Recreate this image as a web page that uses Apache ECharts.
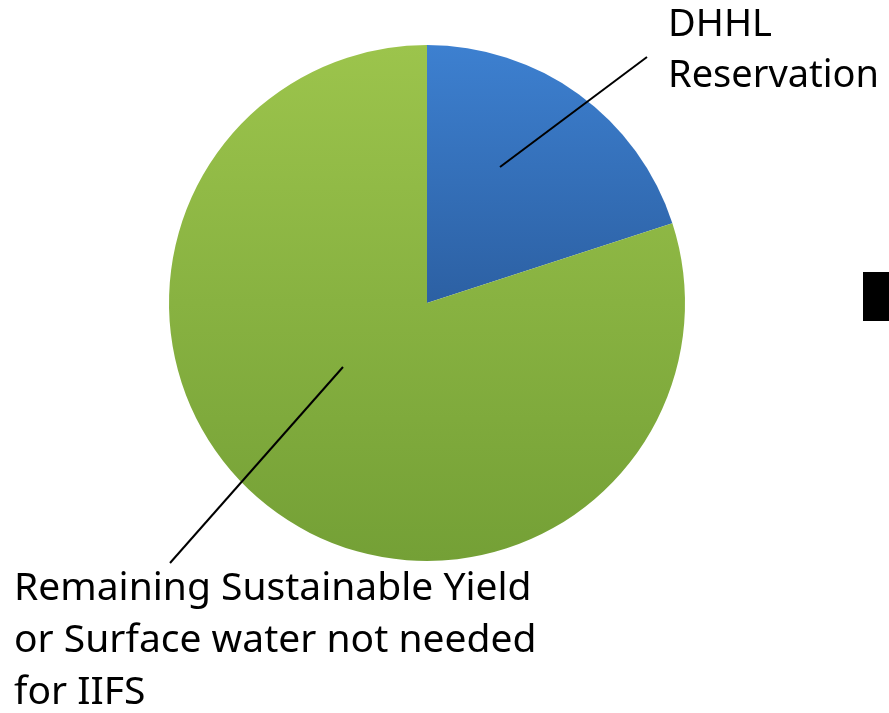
<!DOCTYPE html>
<html><head><meta charset="utf-8">
<script src="https://cdn.jsdelivr.net/npm/echarts@6/dist/echarts.min.js"></script>
<style>html,body{margin:0;padding:0;background:#fff}#c{width:889px;height:713px}</style>
</head><body><div id="c"></div>
<script>
const categories = ['DHHL\nReservation', 'Remaining Sustainable Yield\nor Surface water not needed\nfor IIFS'];
const values = [20, 80];
const colorsTop = ['#3d80d0', '#9cc44c'];
const colorsBottom = ['#2c60a3', '#74a036'];

const chart = echarts.init(document.getElementById('c'));
const cx = 427, cy = 303, R = 258;
const labelPos = [{x: 668, y: 0, size: 38, lh: 51}, {x: 14, y: 563, size: 39, lh: 52}];
chart.setOption({
  animation: false,
  series: [{
    type: 'pie',
    center: [cx, cy],
    radius: [0, R],
    startAngle: 90,
    clockwise: true,
    data: categories.map((n, i) => ({
      name: n, value: values[i],
      itemStyle: {color: new echarts.graphic.LinearGradient(0, 0, 0, 1, [
        {offset: 0, color: colorsTop[i]}, {offset: 1, color: colorsBottom[i]}])},
      label: {fontSize: labelPos[i].size, lineHeight: labelPos[i].lh}
    })),
    label: {show: true, formatter: '{b}', color: '#000', fontFamily: 'Noto Sans', overflow: 'none', width: 800},
    labelLine: {show: false},
    labelLayout: function (p) {
      const lp = labelPos[p.dataIndex];
      return {x: lp.x, y: lp.y, align: 'left', verticalAlign: 'top'};
    }
  }],
  graphic: [
    {type: 'line', z: 100, shape: {x1: 500, y1: 167, x2: 647, y2: 57}, style: {stroke: '#000', lineWidth: 2}},
    {type: 'line', z: 100, shape: {x1: 343, y1: 367, x2: 170, y2: 563}, style: {stroke: '#000', lineWidth: 2}},
    {type: 'rect', z: 100, shape: {x: 863, y: 272, width: 30, height: 49}, style: {fill: '#000'}}
  ]
});
</script></body></html>
